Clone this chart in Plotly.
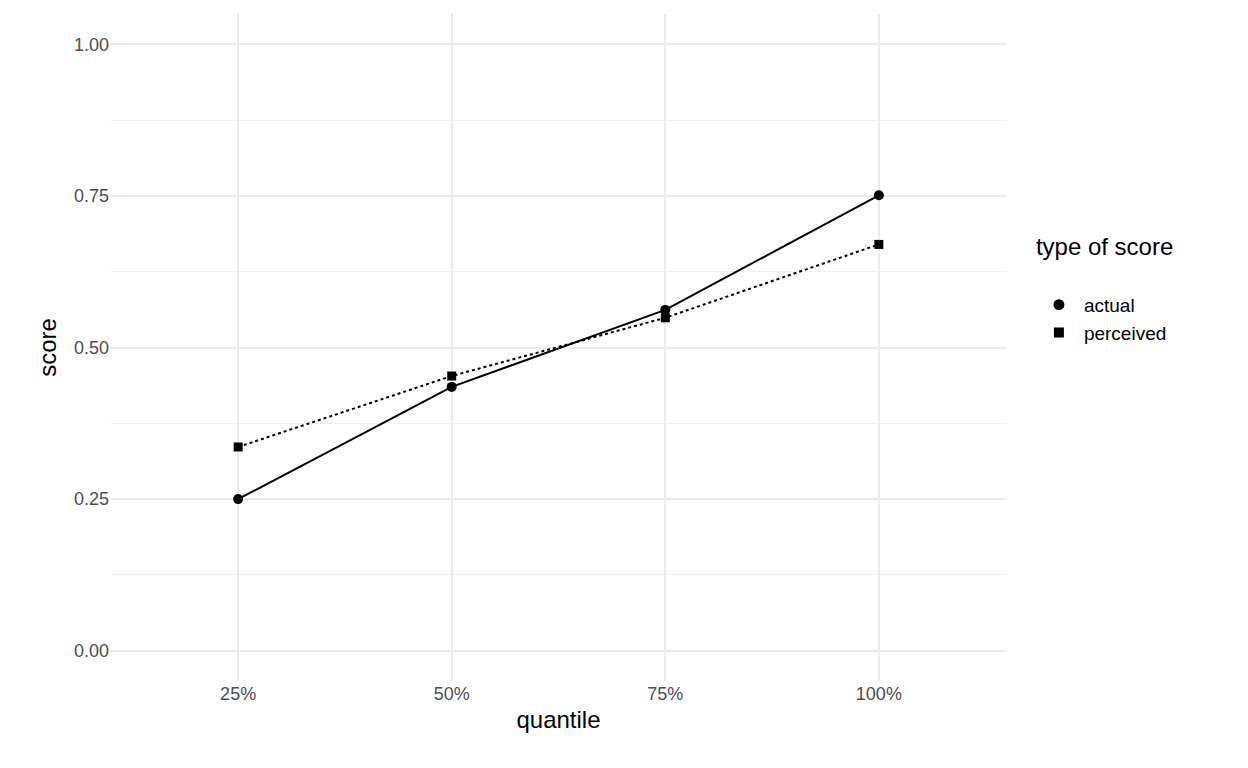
import plotly.graph_objects as go

quantiles = ["25%", "50%", "75%", "100%"]
actual = [0.250, 0.435, 0.562, 0.751]
perceived = [0.336, 0.453, 0.549, 0.670]

fig = go.Figure()
fig.add_trace(go.Scatter(x=[0, 1, 2, 3], y=actual, name="actual", mode="lines+markers",
                         showlegend=False,
                         line=dict(color="black", width=2, dash="solid"),
                         marker=dict(symbol="circle", size=10, color="black")))
fig.add_trace(go.Scatter(x=[0, 1, 2, 3], y=perceived, name="perceived", mode="lines+markers",
                         showlegend=False,
                         line=dict(color="black", width=2, dash="dot"),
                         marker=dict(symbol="square", size=9, color="black")))
fig.add_trace(go.Scatter(x=[None], y=[None], name="actual", mode="markers",
                         marker=dict(symbol="circle", size=11, color="black")))
fig.add_trace(go.Scatter(x=[None], y=[None], name="perceived", mode="markers",
                         marker=dict(symbol="square", size=10, color="black")))
fig.update_layout(
    width=1248, height=768, plot_bgcolor="white", paper_bgcolor="white",
    margin=dict(l=102, r=249, t=6, b=95),
    font=dict(family="Liberation Sans, Arial", size=17, color="#4D4D4D"),
    xaxis=dict(range=[-0.6, 3.6], tickvals=[0, 1, 2, 3], ticktext=quantiles,
               showgrid=True, gridcolor="#EBEBEB", gridwidth=2, zeroline=False,
               title=dict(text="quantile", font=dict(size=24, color="black"), standoff=8),
               tickfont=dict(size=18)),
    yaxis=dict(range=[-0.05, 1.05], tickvals=[0, 0.25, 0.5, 0.75, 1.0],
               ticktext=["0.00", "0.25", "0.50", "0.75", "1.00"],
               showgrid=True, gridcolor="#EBEBEB", gridwidth=2, zeroline=False,
               minor=dict(tickvals=[0.125, 0.375, 0.625, 0.875], showgrid=True,
                          gridcolor="#F2F2F2", gridwidth=1),
               title=dict(text="score", font=dict(size=24, color="black"), standoff=10),
               tickfont=dict(size=18)),
    legend=dict(x=1.03, y=0.59, xanchor="left", yanchor="middle",
                title=dict(text="type of score<br> ", font=dict(size=24, color="black")),
                font=dict(size=19, color="black"), tracegroupgap=20, itemwidth=40),
)
fig.write_html("out.html")
